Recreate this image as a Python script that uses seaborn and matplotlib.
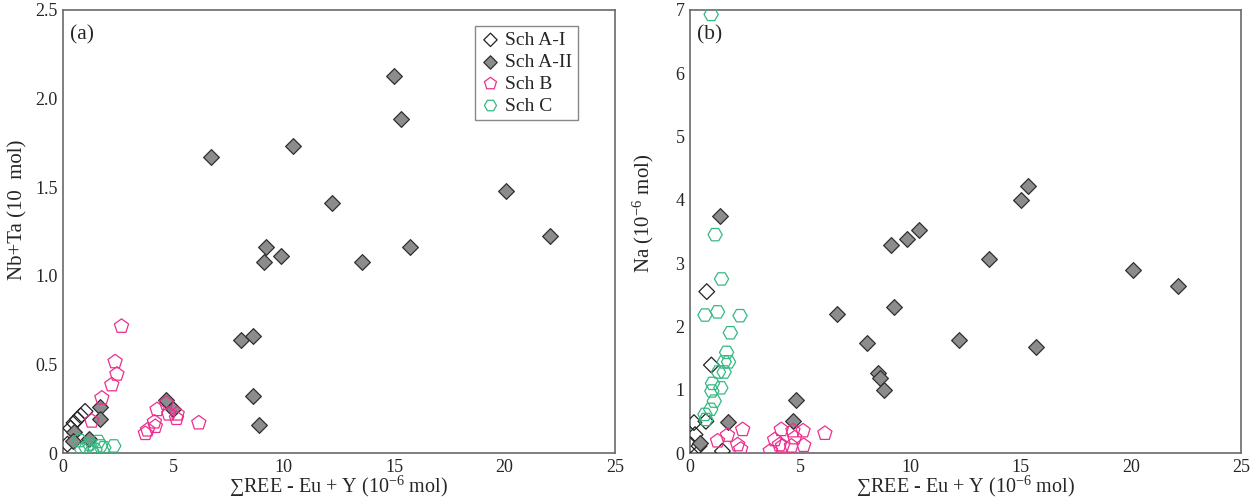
import matplotlib
matplotlib.use("Agg")
import matplotlib.pyplot as plt
from matplotlib.ticker import MultipleLocator
import seaborn as sns
import pandas as pd

# ---- panel (a): Nb+Ta versus sum REE ----
a_I_x = [0.2, 0.35, 0.5, 0.65, 0.8, 1.0]
a_I_y = [0.05, 0.14, 0.17, 0.19, 0.21, 0.235]

a_II_x = [15.0, 15.3, 10.4, 6.7, 20.05, 12.2, 13.55, 15.7, 22.05, 9.1, 9.2, 9.86,
          8.05, 8.6, 8.6, 8.86, 1.68, 1.68, 0.5, 0.47, 1.18, 4.68, 4.97]
a_II_y = [2.13, 1.885, 1.73, 1.67, 1.48, 1.41, 1.08, 1.16, 1.225, 1.08, 1.165, 1.11,
          0.64, 0.66, 0.32, 0.16, 0.26, 0.19, 0.12, 0.065, 0.08, 0.30, 0.25]

a_B_x = [1.3, 1.76, 2.21, 2.36, 2.44, 2.65, 3.73, 3.83, 4.14, 4.18, 4.26, 4.68,
         4.79, 5.14, 5.17, 6.15]
a_B_y = [0.18, 0.31, 0.385, 0.515, 0.445, 0.715, 0.11, 0.13, 0.175, 0.15, 0.245,
         0.28, 0.22, 0.195, 0.22, 0.17]

a_C_x = [0.75, 0.85, 1.05, 1.2, 1.3, 1.45, 1.6, 1.7, 1.85, 2.3, 1.36]
a_C_y = [0.07, 0.02, 0.03, 0.05, 0.01, 0.02, 0.065, 0.04, 0.03, 0.04, 2.56]

# ---- panel (b): Na versus sum REE ----
b_I_x = [0.76, 0.97, 0.18, 0.23, 0.03, 0.72, 1.47, 0.41]
b_I_y = [2.55, 1.39, 0.48, 0.29, 0.13, 0.5, 0.03, 0.11]

b_II_x = [15.33, 15.02, 13.55, 20.08, 22.15, 12.2, 15.7, 10.41, 9.85, 9.13, 9.24,
          6.68, 8.02, 8.55, 8.6, 8.81, 1.36, 4.79, 4.66, 1.74, 0.44]
b_II_y = [4.22, 3.99, 3.06, 2.89, 2.64, 1.78, 1.67, 3.52, 3.38, 3.28, 2.30,
          2.19, 1.74, 1.26, 1.18, 1.0, 3.74, 0.83, 0.5, 0.49, 0.16]

b_B_x = [1.25, 1.7, 2.16, 2.3, 2.39, 3.64, 3.84, 4.06, 4.14, 4.2, 4.6, 4.67,
         4.75, 5.13, 5.16, 6.12]
b_B_y = [0.19, 0.28, 0.13, 0.06, 0.37, 0.03, 0.21, 0.13, 0.37, 0.11, 0.11, 0.35,
         0.24, 0.35, 0.12, 0.31]

b_C_x = [0.96, 1.14, 1.43, 0.68, 1.25, 2.27, 1.83, 1.66, 1.75, 1.55, 1.29, 1.55,
         1.02, 1.4, 0.99, 1.1, 0.94, 0.72, 0.68]
b_C_y = [6.93, 3.45, 2.75, 2.18, 2.23, 2.17, 1.9, 1.59, 1.44, 1.44, 1.28, 1.28,
         1.1, 1.03, 0.98, 0.82, 0.69, 0.53, 0.61]

labels = ["Sch A-I", "Sch A-II", "Sch B", "Sch C"]

sns.set_theme(style="white")
plt.rcParams["font.family"] = ["Liberation Serif", "DejaVu Serif"]
plt.rcParams["mathtext.fontset"] = "custom"
plt.rcParams["mathtext.rm"] = "Liberation Serif"
plt.rcParams["mathtext.it"] = "Liberation Serif:italic"

styles = {
    "Sch A-I": dict(marker="D", s=64, facecolor="none", edgecolor="#222222", linewidth=0.9),
    "Sch A-II": dict(marker="D", s=64, facecolor="#8c8c8c", edgecolor="#303030", linewidth=0.9),
    "Sch B": dict(marker="p", s=115, facecolor="none", edgecolor="#ec2f8f", linewidth=0.9),
    "Sch C": dict(marker="H", s=105, facecolor="none", edgecolor="#35b882", linewidth=0.9),
}

fig = plt.figure(figsize=(12.55, 5.0), dpi=100)
ax_a = fig.add_axes([63 / 1255, 1 - 453 / 500, (615 - 63) / 1255, 443 / 500])
ax_b = fig.add_axes([690 / 1255, 1 - 453 / 500, (1241 - 690) / 1255, 443 / 500])

panel_a = [(a_I_x, a_I_y), (a_II_x, a_II_y), (a_B_x, a_B_y), (a_C_x, a_C_y)]
panel_b = [(b_I_x, b_I_y), (b_II_x, b_II_y), (b_B_x, b_B_y), (b_C_x, b_C_y)]

for ax, groups in ((ax_a, panel_a), (ax_b, panel_b)):
    for lab, (gx, gy) in zip(labels, groups):
        df = pd.DataFrame({"x": gx, "y": gy})
        sns.scatterplot(data=df, x="x", y="y", ax=ax, label=lab, legend=False,
                        zorder=3, **styles[lab])

axis_col = "#6a6a6a"
xlabel = "\u2211REE - Eu + Y (10$^{-6}$ mol)"
for ax in (ax_a, ax_b):
    ax.set_xlim(0, 25)
    ax.xaxis.set_major_locator(MultipleLocator(5))
    ax.xaxis.set_minor_locator(MultipleLocator(1))
    ax.tick_params(which="both", direction="in", top=False, right=False,
                   color=axis_col, labelsize=13, pad=4)
    ax.tick_params(which="major", length=6.5, width=1.0)
    ax.tick_params(which="minor", length=3.4, width=0.9)
    for sp in ax.spines.values():
        sp.set_color(axis_col)
        sp.set_linewidth(1.2)
    ax.set_xlabel(xlabel, fontsize=14.5, labelpad=-1)
    ax.set_facecolor("white")

ax_a.set_ylim(0, 2.5)
ax_a.yaxis.set_major_locator(MultipleLocator(0.5))
ax_a.yaxis.set_minor_locator(MultipleLocator(0.1))
ax_a.set_yticks([0, 0.5, 1.0, 1.5, 2.0, 2.5])
ax_a.set_yticklabels(["0", "0.5", "1.0", "1.5", "2.0", "2.5"])
ax_a.set_ylabel("Nb+Ta (10  mol)", fontsize=15)
ax_a.yaxis.set_label_coords(-0.064, 0.55)

ax_b.set_ylim(0, 7)
ax_b.yaxis.set_major_locator(MultipleLocator(1))
ax_b.yaxis.set_minor_locator(MultipleLocator(0.2))
ax_b.set_ylabel("Na (10$^{-6}$ mol)", fontsize=15)
ax_b.yaxis.set_label_coords(-0.062, 0.54)

ax_a.text(0.013, 0.965, "(a)", transform=ax_a.transAxes, fontsize=15.5, va="top")
ax_b.text(0.013, 0.965, "(b)", transform=ax_b.transAxes, fontsize=15.5, va="top")

leg = ax_a.legend(loc="upper right", bbox_to_anchor=(0.933, 0.965), fontsize=14,
                  frameon=True, fancybox=False, edgecolor="#6a6a6a",
                  handletextpad=0.25, borderpad=0.3, labelspacing=0.22,
                  handlelength=1.0, borderaxespad=0, markerscale=0.85)
leg.get_frame().set_linewidth(1.0)

fig.savefig("out.png", dpi=100, facecolor="white")
